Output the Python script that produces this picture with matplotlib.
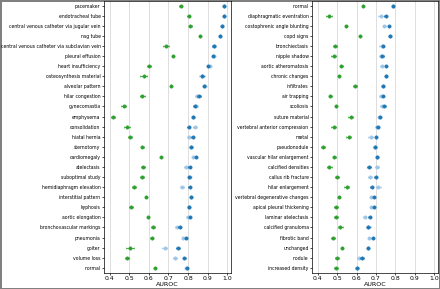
import matplotlib

matplotlib.use("Agg")
import matplotlib.pyplot as plt

# ---- left panel ----
left_labels = [
    "pacemaker", "endotracheal tube", "central venous catheter via jugular vein",
    "nsg tube", "central venous catheter via subclavian vein", "pleural effusion",
    "heart insufficiency", "osteosynthesis material", "alveolar pattern",
    "hilar congestion", "gynecomastia", "emphysema", "consolidation",
    "hiatal hernia", "sternotomy", "cardiomegaly", "atelectasis",
    "suboptimal study", "hemidiaphragm elevation", "interstitial pattern",
    "kyphosis", "aortic elongation", "bronchovascular markings", "pneumonia",
    "goiter", "volume loss", "normal",
]
left_green = [0.762, 0.803, 0.811, 0.861, 0.686, 0.724, 0.599, 0.573, 0.712,
              0.566, 0.470, 0.414, 0.486, 0.503, 0.565, 0.664, 0.571, 0.565,
              0.523, 0.585, 0.508, 0.597, 0.620, 0.615, 0.505, 0.490, 0.632]
left_green_ci = [0.008, 0.006, 0.007, 0.003, 0.016, 0.004, 0.011, 0.018, 0.004,
                 0.012, 0.012, 0.010, 0.016, 0.010, 0.008, 0.003, 0.010, 0.009,
                 0.009, 0.007, 0.010, 0.004, 0.012, 0.008, 0.020, 0.010, 0.004]
left_light = [0.985, 0.983, 0.976, 0.964, 0.933, 0.931, 0.910, 0.871, 0.885,
              0.846, 0.840, 0.827, 0.834, 0.803, 0.815, 0.827, 0.791, 0.808,
              0.768, 0.815, 0.804, 0.798, 0.745, 0.775, 0.680, 0.735, 0.790]
left_light_ci = [0.005, 0.005, 0.005, 0.006, 0.010, 0.006, 0.008, 0.014, 0.006,
                 0.010, 0.009, 0.008, 0.010, 0.008, 0.008, 0.007, 0.010, 0.008,
                 0.010, 0.007, 0.008, 0.007, 0.012, 0.008, 0.012, 0.010, 0.006]
left_dark = [0.986, 0.982, 0.975, 0.963, 0.931, 0.930, 0.903, 0.872, 0.884,
             0.856, 0.835, 0.826, 0.804, 0.823, 0.814, 0.842, 0.808, 0.807,
             0.808, 0.814, 0.805, 0.811, 0.758, 0.790, 0.750, 0.780, 0.795]
left_dark_ci = [0.004, 0.004, 0.004, 0.004, 0.007, 0.005, 0.006, 0.008, 0.005,
                0.008, 0.007, 0.006, 0.008, 0.007, 0.006, 0.006, 0.007, 0.006,
                0.007, 0.005, 0.006, 0.005, 0.008, 0.006, 0.010, 0.008, 0.005]

# ---- right panel ----
right_labels = [
    "normal", "diaphragmatic eventration", "costophrenic angle blunting",
    "copd signs", "bronchiectasis", "nipple shadow", "aortic atheromatosis",
    "chronic changes", "infiltrates", "air trapping", "scoliosis",
    "suture material", "vertebral anterior compression", "metal",
    "pseudonodule", "vascular hilar enlargement", "calcified densities",
    "callus rib fracture", "hilar enlargement", "vertebral degenerative changes",
    "apical pleural thickening", "laminar atelectasis", "calcified granuloma",
    "fibrotic band", "unchanged", "nodule", "increased density",
]
right_green = [0.631, 0.458, 0.546, 0.619, 0.489, 0.482, 0.522, 0.508, 0.592,
               0.465, 0.496, 0.570, 0.482, 0.559, 0.426, 0.486, 0.460, 0.501,
               0.549, 0.510, 0.494, 0.494, 0.517, 0.479, 0.523, 0.499, 0.494]
right_green_ci = [0.004, 0.017, 0.006, 0.004, 0.012, 0.013, 0.007, 0.005, 0.008,
                  0.007, 0.004, 0.012, 0.012, 0.014, 0.010, 0.008, 0.013, 0.010,
                  0.013, 0.007, 0.008, 0.009, 0.014, 0.009, 0.005, 0.012, 0.009]
right_light = [0.788, 0.726, 0.744, 0.770, 0.730, 0.728, 0.729, 0.753, 0.735,
               0.726, 0.729, 0.718, 0.706, 0.672, 0.694, 0.707, 0.705, 0.671,
               0.712, 0.676, 0.676, 0.643, 0.660, 0.666, 0.657, 0.612, 0.602]
right_light_ci = [0.006, 0.015, 0.007, 0.006, 0.012, 0.012, 0.007, 0.006, 0.008,
                  0.008, 0.007, 0.010, 0.010, 0.012, 0.009, 0.007, 0.012, 0.010,
                  0.012, 0.008, 0.008, 0.008, 0.012, 0.009, 0.005, 0.010, 0.008]
right_dark = [0.790, 0.751, 0.767, 0.771, 0.736, 0.733, 0.753, 0.752, 0.737,
              0.738, 0.744, 0.720, 0.709, 0.700, 0.696, 0.707, 0.664, 0.698,
              0.678, 0.691, 0.691, 0.667, 0.661, 0.683, 0.657, 0.628, 0.603]
right_dark_ci = [0.005, 0.008, 0.006, 0.005, 0.007, 0.007, 0.006, 0.005, 0.006,
                 0.006, 0.006, 0.006, 0.007, 0.007, 0.006, 0.005, 0.008, 0.007,
                 0.008, 0.006, 0.006, 0.006, 0.007, 0.006, 0.004, 0.008, 0.006]

GREEN = "#2ca02c"
DARK = "#1f77b4"
LIGHT = "#9dc6e6"


def draw_panel(ax, labels, light, light_ci, dark, dark_ci, green, green_ci):
    ys = list(range(len(labels)))
    style = dict(fmt="o", markersize=2.4, elinewidth=0.6, capsize=1.0,
                 capthick=0.6, markeredgewidth=0.4)
    ax.errorbar(light, ys, xerr=light_ci, color=LIGHT, zorder=3, **style)
    ax.errorbar(dark, ys, xerr=dark_ci, color=DARK, zorder=4, **style)
    ax.errorbar(green, ys, xerr=green_ci, color=GREEN, zorder=5, **style)
    ax.set_yticks(ys)
    ax.set_yticklabels(labels, fontsize=3.3)
    ax.set_ylim(len(labels) - 0.5, -0.5)
    ax.set_xlim(0.37, 1.02)
    ax.set_xticks([0.4, 0.5, 0.6, 0.7, 0.8, 0.9, 1.0])
    ax.set_xticklabels(["0.4", "0.5", "0.6", "0.7", "0.8", "0.9", "1.0"], fontsize=4.4)
    ax.tick_params(axis="both", length=1.5, width=0.5, pad=1.0)
    ax.set_xlabel("AUROC", fontsize=4.6, labelpad=0.3)
    ax.grid(axis="x", color="#d8d8d8", linewidth=0.6)
    ax.set_axisbelow(True)
    for spine in ax.spines.values():
        spine.set_linewidth(0.5)


fig = plt.figure(figsize=(4.4, 2.89), dpi=100)
ax_left = fig.add_axes([104 / 440, 16.2 / 289, 127 / 440, 272.2 / 289])
ax_right = fig.add_axes([312 / 440, 16.2 / 289, 126 / 440, 272.2 / 289])

draw_panel(ax_left, left_labels, left_light, left_light_ci, left_dark, left_dark_ci,
           left_green, left_green_ci)
draw_panel(ax_right, right_labels, right_light, right_light_ci, right_dark, right_dark_ci,
           right_green, right_green_ci)

fig.patch.set_edgecolor("#808080")
fig.patch.set_linewidth(1.0)

fig.savefig("out.png", dpi=100, edgecolor=fig.get_edgecolor())
